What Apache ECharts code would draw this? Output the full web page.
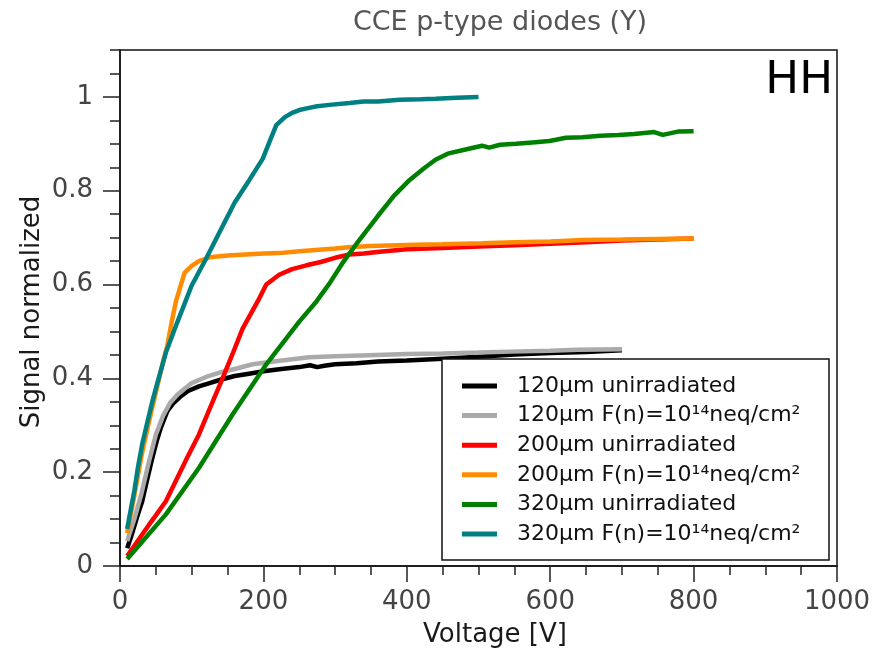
<!DOCTYPE html>
<html>
<head>
<meta charset="utf-8">
<script src="https://cdn.jsdelivr.net/npm/echarts@6/dist/echarts.min.js"></script>
<style>
  html, body { margin: 0; padding: 0; background: #fff; }
  #chart { width: 883px; height: 648px; }
</style>
</head>
<body>
<div id="chart"></div>
<script>
// CCE curves: signal (normalized) versus bias voltage for p-type diodes
const seriesNames = [
  '120µm unirradiated',
  '120µm F(n)=10¹⁴neq/cm²',
  '200µm unirradiated',
  '200µm F(n)=10¹⁴neq/cm²',
  '320µm unirradiated',
  '320µm F(n)=10¹⁴neq/cm²'
];
const seriesColors = ['#000000', '#aaaaaa', '#ff0000', '#ff8c00', '#008000', '#008080'];

const v120u = [10, 15, 20, 25, 31, 38, 45, 51, 57, 66, 75, 85, 95, 110, 125, 140, 160, 180, 200, 225, 250, 265, 275, 285, 300, 330, 360, 400, 450, 500, 550, 600, 650, 700];
const s120u = [0.038, 0.06, 0.085, 0.11, 0.138, 0.185, 0.23, 0.265, 0.295, 0.33, 0.348, 0.362, 0.373, 0.383, 0.39, 0.397, 0.405, 0.41, 0.415, 0.42, 0.424, 0.428, 0.424, 0.427, 0.43, 0.432, 0.436, 0.438, 0.442, 0.446, 0.451, 0.454, 0.456, 0.46];

const v120i = [10, 20, 30, 40, 50, 60, 70, 80, 90, 100, 120, 140, 160, 185, 220, 264, 300, 358, 400, 450, 500, 544, 600, 638, 700];
const s120i = [0.053, 0.10, 0.155, 0.22, 0.28, 0.32, 0.348, 0.365, 0.378, 0.39, 0.403, 0.413, 0.42, 0.43, 0.437, 0.445, 0.447, 0.45, 0.452, 0.453, 0.455, 0.457, 0.459, 0.461, 0.462];

const v200u = [10, 20, 30, 40, 50, 64, 80, 95, 110, 125, 143, 157, 171, 192, 204, 222, 240, 260, 280, 300, 320, 340, 362, 400, 450, 500, 550, 600, 650, 700, 750, 800];
const s200u = [0.021, 0.043, 0.065, 0.087, 0.108, 0.138, 0.188, 0.235, 0.28, 0.335, 0.40, 0.452, 0.506, 0.564, 0.60, 0.621, 0.633, 0.641, 0.648, 0.657, 0.664, 0.666, 0.67, 0.675, 0.678, 0.681, 0.684, 0.687, 0.69, 0.694, 0.696, 0.698];

const v200i = [10, 20, 30, 40, 50, 60, 66, 72, 78, 85, 90, 100, 110, 125, 150, 175, 200, 222, 250, 300, 323, 350, 411, 450, 505, 550, 600, 646, 700, 750, 800];
const s200i = [0.07, 0.15, 0.235, 0.305, 0.37, 0.435, 0.47, 0.52, 0.564, 0.60, 0.625, 0.64, 0.65, 0.658, 0.662, 0.664, 0.666, 0.667, 0.671, 0.677, 0.68, 0.682, 0.685, 0.686, 0.688, 0.69, 0.692, 0.695, 0.696, 0.697, 0.698];

const v320u = [10, 30, 64, 110, 157, 204, 250, 274, 292, 310, 330, 359, 382, 404, 425, 440, 457, 485, 505, 515, 530, 552, 575, 599, 622, 645, 670, 695, 717, 745, 757, 778, 800];
const s320u = [0.015, 0.05, 0.11, 0.209, 0.323, 0.43, 0.521, 0.564, 0.602, 0.645, 0.687, 0.745, 0.789, 0.823, 0.849, 0.866, 0.879, 0.889, 0.896, 0.892, 0.898, 0.90, 0.903, 0.906, 0.913, 0.914, 0.917, 0.919, 0.921, 0.925, 0.919, 0.926, 0.927];

const v320i = [10, 15, 20, 25, 31, 40, 45, 52, 64, 80, 100, 120, 140, 160, 180, 199, 210, 218, 230, 240, 250, 262, 275, 292, 320, 340, 360, 390, 420, 440, 470, 500];
const s320i = [0.079, 0.12, 0.16, 0.21, 0.26, 0.318, 0.35, 0.39, 0.455, 0.52, 0.598, 0.655, 0.715, 0.775, 0.822, 0.868, 0.91, 0.94, 0.957, 0.966, 0.972, 0.976, 0.98, 0.983, 0.987, 0.99, 0.99, 0.994, 0.995, 0.996, 0.998, 1.0];

const xTicks = [0, 200, 400, 600, 800, 1000];
const yTicks = [0, 0.2, 0.4, 0.6, 0.8, 1];

const voltages = [v120u, v120i, v200u, v200i, v320u, v320i];
const signals = [s120u, s120i, s200u, s200i, s320u, s320i];

const FONT = 'DejaVu Sans';

const chart = echarts.init(document.getElementById('chart'), null, { renderer: 'canvas' });

const series = seriesNames.map((name, i) => ({
  name: name,
  type: 'line',
  xAxisIndex: 0,
  yAxisIndex: 0,
  showSymbol: false,
  symbol: 'none',
  smooth: false,
  color: seriesColors[i],
  lineStyle: { color: seriesColors[i], width: 4.5 },
  data: voltages[i].map((v, k) => [v, signals[i][k]]),
  z: 2 + i * 0.01
}));

const yLabelFmt = v => {
  const r = Math.round(v * 100) / 100;
  return r === 1 ? '1' : (r === 0 ? '0' : String(r));
};

chart.setOption({
  animation: false,
  backgroundColor: '#ffffff',
  title: {
    text: 'CCE p-type diodes (Y)',
    left: 495,
    top: 4,
    textAlign: 'center',
    textStyle: { fontFamily: FONT, fontSize: 27, fontWeight: 'normal', color: '#555555' }
  },
  grid: {
    left: 120, right: 46, top: 50, bottom: 82,
    show: true, borderColor: '#111', borderWidth: 1.5, backgroundColor: 'transparent'
  },
  xAxis: {
    type: 'value',
    min: 0, max: 1000, interval: 200,
    axisLine: { show: true, lineStyle: { color: '#111', width: 1.5 } },
    axisTick: { show: true, inside: false, length: 16, lineStyle: { color: '#222', width: 1.5 } },
    minorTick: { show: true, splitNumber: 4, length: 9, lineStyle: { color: '#222', width: 1.5 } },
    splitLine: { show: false },
    axisLabel: {
      show: true, margin: 23, fontFamily: FONT, fontSize: 26, lineHeight: 26, color: '#444444',
      formatter: v => (xTicks.indexOf(v) >= 0 ? String(v) : '')
    }
  },
  yAxis: [
    {
      type: 'value',
      min: 0, max: 1.1, interval: 0.05,
      position: 'left',
      axisLine: { show: true, lineStyle: { color: '#111', width: 1.5 } },
      axisTick: { show: true, inside: false, length: 10, lineStyle: { color: '#222', width: 1.5 } },
      splitLine: { show: false },
      axisLabel: { show: false }
    },
    {
      type: 'value',
      min: 0, max: 1.1,
      position: 'left',
      axisLine: { show: false },
      axisTick: { show: true, inside: false, length: 17, customValues: yTicks, lineStyle: { color: '#222', width: 1.5 } },
      splitLine: { show: false },
      axisLabel: {
        show: true, margin: 27, customValues: yTicks,
        fontFamily: FONT, fontSize: 26, color: '#444444',
        formatter: yLabelFmt
      }
    }
  ],
  legend: {
    orient: 'vertical',
    left: 462,
    top: 375,
    padding: 0,
    itemWidth: 35,
    itemHeight: 5,
    itemGap: 7.6,
    icon: 'rect',
    data: seriesNames,
    textStyle: { fontFamily: FONT, fontSize: 22, lineHeight: 22, color: '#111111', padding: [0, 0, 0, 15] },
    z: 6
  },
  graphic: [
    {
      type: 'rect',
      shape: { x: 442, y: 359, width: 387, height: 201 },
      style: { fill: '#ffffff', stroke: '#111', lineWidth: 1.5 },
      z: 5
    },
    {
      type: 'text',
      x: 833, y: 81,
      style: {
        text: 'HH', font: '45px "DejaVu Sans"', fill: '#000',
        textAlign: 'right', textVerticalAlign: 'middle'
      },
      z: 6
    },
    {
      type: 'text',
      x: 495, y: 635,
      style: {
        text: 'Voltage [V]', font: '26px "DejaVu Sans"', fill: '#1a1a1a',
        textAlign: 'center', textVerticalAlign: 'middle'
      },
      z: 6
    },
    {
      type: 'text',
      x: 32, y: 312,
      rotation: Math.PI / 2,
      style: {
        text: 'Signal normalized', font: '26px "DejaVu Sans"', fill: '#1a1a1a',
        textAlign: 'center', textVerticalAlign: 'middle'
      },
      z: 6
    }
  ],
  series: series
});
</script>
</body>
</html>
